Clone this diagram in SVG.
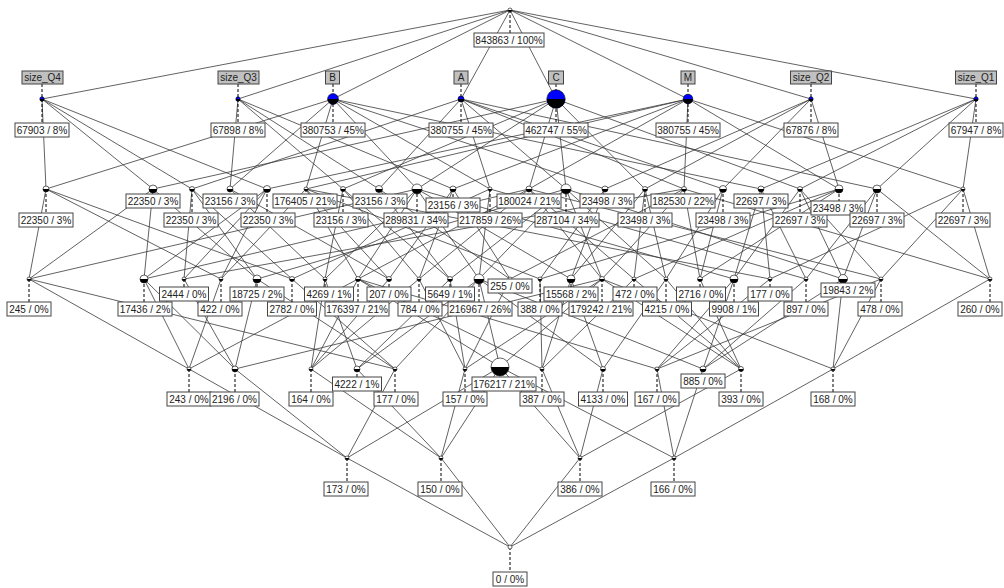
<svg xmlns="http://www.w3.org/2000/svg" width="1004" height="588" viewBox="0 0 1004 588">
<style>
.e{stroke:#3a3a3a;stroke-width:0.8;fill:none}
.d{stroke:#000;stroke-width:1;stroke-dasharray:3,2}
.lb{fill:#fff;stroke:#444;stroke-width:1}
.al{fill:#c0c0c0;stroke:#444;stroke-width:1}
.t{font-family:"Liberation Sans",Arial,sans-serif;font-size:10px;fill:#222;text-anchor:middle}
.w{fill:#fff;stroke:#000;stroke-width:0.6}
.u{fill:#00f;stroke:#000;stroke-width:0.6}
.k{fill:#000}
</style>
<defs>
<g id="g2"><circle class="w" r="2"/><path class="k" d="M-2 0A2 2 0 0 0 2 0Z"/></g>
<g id="g25"><circle class="w" r="2.5"/><path class="k" d="M-2.5 0A2.5 2.5 0 0 0 2.5 0Z"/></g>
<g id="g3"><circle class="w" r="3"/><path class="k" d="M-3 0A3 3 0 0 0 3 0Z"/></g>
<g id="g35"><circle class="w" r="3.5"/><path class="k" d="M-3.5 0A3.5 3.5 0 0 0 3.5 0Z"/></g>
<g id="g4"><circle class="w" r="4"/><path class="k" d="M-4 0A4 4 0 0 0 4 0Z"/></g>
<g id="g45"><circle class="w" r="4.5"/><path class="k" d="M-4.5 0A4.5 4.5 0 0 0 4.5 0Z"/></g>
<g id="g5"><circle class="w" r="5"/><path class="k" d="M-5 0A5 5 0 0 0 5 0Z"/></g>
<g id="g9"><circle class="w" r="9"/><path class="k" d="M-9 0A9 9 0 0 0 9 0Z"/></g>
<g id="gw"><circle class="w" r="2"/></g>
<g id="u2"><circle class="u" r="2.2"/><path class="k" d="M-2.2 0A2.2 2.2 0 0 0 2.2 0Z"/></g>
<g id="u3"><circle class="u" r="3"/><path class="k" d="M-3 0A3 3 0 0 0 3 0Z"/></g>
<g id="u48"><circle class="u" r="4.8"/><path class="k" d="M-4.8 0A4.8 4.8 0 0 0 4.8 0Z"/></g>
<g id="u53"><circle class="u" r="5.4"/><path class="k" d="M-5.4 0A5.4 5.4 0 0 0 5.4 0Z"/></g>
<g id="u9"><circle class="u" r="9.2"/><path class="k" d="M-9.2 0A9.2 9.2 0 0 0 9.2 0Z"/></g>
</defs>
<rect width="1004" height="588" fill="#fff"/>
<g id="connectors">
<line class="e" x1="510" y1="10" x2="42" y2="99"/><line class="e" x1="510" y1="10" x2="238" y2="99"/><line class="e" x1="510" y1="10" x2="333" y2="99"/><line class="e" x1="510" y1="10" x2="461" y2="99"/><line class="e" x1="510" y1="10" x2="556" y2="99"/><line class="e" x1="510" y1="10" x2="688" y2="99"/><line class="e" x1="510" y1="10" x2="811" y2="99"/><line class="e" x1="510" y1="10" x2="976" y2="99"/>
<line class="e" x1="42" y1="99" x2="46" y2="189"/><line class="e" x1="42" y1="99" x2="153" y2="189"/><line class="e" x1="42" y1="99" x2="192" y2="189"/><line class="e" x1="42" y1="99" x2="267" y2="189"/>
<line class="e" x1="238" y1="99" x2="230" y2="189"/><line class="e" x1="238" y1="99" x2="343" y2="189"/><line class="e" x1="238" y1="99" x2="379" y2="189"/><line class="e" x1="238" y1="99" x2="453" y2="189"/>
<line class="e" x1="811" y1="99" x2="605" y2="189"/><line class="e" x1="811" y1="99" x2="645" y2="189"/><line class="e" x1="811" y1="99" x2="723" y2="189"/><line class="e" x1="811" y1="99" x2="839" y2="189"/>
<line class="e" x1="976" y1="99" x2="761" y2="189"/><line class="e" x1="976" y1="99" x2="800" y2="189"/><line class="e" x1="976" y1="99" x2="877" y2="189"/><line class="e" x1="976" y1="99" x2="963" y2="189"/>
<line class="e" x1="333" y1="99" x2="46" y2="189"/><line class="e" x1="333" y1="99" x2="230" y2="189"/><line class="e" x1="333" y1="99" x2="605" y2="189"/><line class="e" x1="333" y1="99" x2="761" y2="189"/><line class="e" x1="333" y1="99" x2="306" y2="189"/><line class="e" x1="333" y1="99" x2="417" y2="189"/><line class="e" x1="333" y1="99" x2="490" y2="189"/>
<line class="e" x1="556" y1="99" x2="153" y2="189"/><line class="e" x1="556" y1="99" x2="343" y2="189"/><line class="e" x1="556" y1="99" x2="645" y2="189"/><line class="e" x1="556" y1="99" x2="800" y2="189"/><line class="e" x1="556" y1="99" x2="417" y2="189"/><line class="e" x1="556" y1="99" x2="529" y2="189"/><line class="e" x1="556" y1="99" x2="566" y2="189"/>
<line class="e" x1="461" y1="99" x2="192" y2="189"/><line class="e" x1="461" y1="99" x2="379" y2="189"/><line class="e" x1="461" y1="99" x2="723" y2="189"/><line class="e" x1="461" y1="99" x2="877" y2="189"/><line class="e" x1="461" y1="99" x2="490" y2="189"/><line class="e" x1="461" y1="99" x2="566" y2="189"/><line class="e" x1="461" y1="99" x2="684" y2="189"/>
<line class="e" x1="688" y1="99" x2="267" y2="189"/><line class="e" x1="688" y1="99" x2="453" y2="189"/><line class="e" x1="688" y1="99" x2="839" y2="189"/><line class="e" x1="688" y1="99" x2="963" y2="189"/><line class="e" x1="688" y1="99" x2="306" y2="189"/><line class="e" x1="688" y1="99" x2="529" y2="189"/><line class="e" x1="688" y1="99" x2="684" y2="189"/>
<line class="e" x1="417" y1="189" x2="479" y2="279"/><line class="e" x1="417" y1="189" x2="358" y2="279"/><line class="e" x1="490" y1="189" x2="479" y2="279"/><line class="e" x1="566" y1="189" x2="479" y2="279"/><line class="e" x1="566" y1="189" x2="602" y2="279"/><line class="e" x1="306" y1="189" x2="358" y2="279"/><line class="e" x1="529" y1="189" x2="358" y2="279"/><line class="e" x1="529" y1="189" x2="602" y2="279"/><line class="e" x1="684" y1="189" x2="602" y2="279"/>
<line class="e" x1="479" y1="279" x2="500" y2="367"/><line class="e" x1="358" y1="279" x2="500" y2="367"/><line class="e" x1="602" y1="279" x2="500" y2="367"/>
<line class="e" x1="46" y1="189" x2="29" y2="279"/><line class="e" x1="153" y1="189" x2="29" y2="279"/><line class="e" x1="417" y1="189" x2="29" y2="279"/>
<line class="e" x1="153" y1="189" x2="144" y2="279"/><line class="e" x1="267" y1="189" x2="144" y2="279"/><line class="e" x1="529" y1="189" x2="144" y2="279"/>
<line class="e" x1="192" y1="189" x2="184" y2="279"/><line class="e" x1="267" y1="189" x2="184" y2="279"/><line class="e" x1="684" y1="189" x2="184" y2="279"/>
<line class="e" x1="46" y1="189" x2="221" y2="279"/><line class="e" x1="267" y1="189" x2="221" y2="279"/><line class="e" x1="306" y1="189" x2="221" y2="279"/>
<line class="e" x1="192" y1="189" x2="257" y2="279"/><line class="e" x1="153" y1="189" x2="257" y2="279"/><line class="e" x1="566" y1="189" x2="257" y2="279"/>
<line class="e" x1="46" y1="189" x2="292" y2="279"/><line class="e" x1="192" y1="189" x2="292" y2="279"/><line class="e" x1="490" y1="189" x2="292" y2="279"/>
<line class="e" x1="29" y1="279" x2="189" y2="369"/><line class="e" x1="144" y1="279" x2="189" y2="369"/><line class="e" x1="221" y1="279" x2="189" y2="369"/><line class="e" x1="358" y1="279" x2="189" y2="369"/>
<line class="e" x1="29" y1="279" x2="395" y2="369"/><line class="e" x1="257" y1="279" x2="395" y2="369"/><line class="e" x1="292" y1="279" x2="395" y2="369"/><line class="e" x1="479" y1="279" x2="395" y2="369"/>
<line class="e" x1="184" y1="279" x2="235" y2="369"/><line class="e" x1="144" y1="279" x2="235" y2="369"/><line class="e" x1="257" y1="279" x2="235" y2="369"/><line class="e" x1="602" y1="279" x2="235" y2="369"/>
<line class="e" x1="189" y1="369" x2="347" y2="458"/><line class="e" x1="395" y1="369" x2="347" y2="458"/><line class="e" x1="235" y1="369" x2="347" y2="458"/><line class="e" x1="500" y1="367" x2="347" y2="458"/>
<line class="e" x1="230" y1="189" x2="325" y2="279"/><line class="e" x1="343" y1="189" x2="325" y2="279"/><line class="e" x1="417" y1="189" x2="325" y2="279"/>
<line class="e" x1="230" y1="189" x2="389" y2="279"/><line class="e" x1="453" y1="189" x2="389" y2="279"/><line class="e" x1="306" y1="189" x2="389" y2="279"/>
<line class="e" x1="343" y1="189" x2="419" y2="279"/><line class="e" x1="453" y1="189" x2="419" y2="279"/><line class="e" x1="529" y1="189" x2="419" y2="279"/>
<line class="e" x1="379" y1="189" x2="450" y2="279"/><line class="e" x1="343" y1="189" x2="450" y2="279"/><line class="e" x1="566" y1="189" x2="450" y2="279"/>
<line class="e" x1="379" y1="189" x2="510" y2="279"/><line class="e" x1="453" y1="189" x2="510" y2="279"/><line class="e" x1="684" y1="189" x2="510" y2="279"/>
<line class="e" x1="325" y1="279" x2="357" y2="369"/><line class="e" x1="450" y1="279" x2="357" y2="369"/><line class="e" x1="479" y1="279" x2="357" y2="369"/>
<line class="e" x1="389" y1="279" x2="311" y2="369"/><line class="e" x1="419" y1="279" x2="311" y2="369"/><line class="e" x1="325" y1="279" x2="311" y2="369"/><line class="e" x1="358" y1="279" x2="311" y2="369"/>
<line class="e" x1="510" y1="279" x2="465" y2="369"/><line class="e" x1="419" y1="279" x2="465" y2="369"/><line class="e" x1="450" y1="279" x2="465" y2="369"/><line class="e" x1="602" y1="279" x2="465" y2="369"/>
<line class="e" x1="357" y1="369" x2="441" y2="458"/><line class="e" x1="311" y1="369" x2="441" y2="458"/><line class="e" x1="465" y1="369" x2="441" y2="458"/><line class="e" x1="500" y1="367" x2="441" y2="458"/>
<line class="e" x1="605" y1="189" x2="540" y2="279"/><line class="e" x1="839" y1="189" x2="540" y2="279"/><line class="e" x1="306" y1="189" x2="540" y2="279"/>
<line class="e" x1="605" y1="189" x2="571" y2="279"/><line class="e" x1="645" y1="189" x2="571" y2="279"/><line class="e" x1="417" y1="189" x2="571" y2="279"/>
<line class="e" x1="645" y1="189" x2="634" y2="279"/><line class="e" x1="839" y1="189" x2="634" y2="279"/><line class="e" x1="529" y1="189" x2="634" y2="279"/>
<line class="e" x1="723" y1="189" x2="666" y2="279"/><line class="e" x1="645" y1="189" x2="666" y2="279"/><line class="e" x1="566" y1="189" x2="666" y2="279"/>
<line class="e" x1="723" y1="189" x2="700" y2="279"/><line class="e" x1="839" y1="189" x2="700" y2="279"/><line class="e" x1="684" y1="189" x2="700" y2="279"/>
<line class="e" x1="571" y1="279" x2="603" y2="369"/><line class="e" x1="666" y1="279" x2="603" y2="369"/><line class="e" x1="479" y1="279" x2="603" y2="369"/>
<line class="e" x1="540" y1="279" x2="542" y2="369"/><line class="e" x1="634" y1="279" x2="542" y2="369"/><line class="e" x1="571" y1="279" x2="542" y2="369"/><line class="e" x1="358" y1="279" x2="542" y2="369"/>
<line class="e" x1="700" y1="279" x2="741" y2="369"/><line class="e" x1="634" y1="279" x2="741" y2="369"/><line class="e" x1="666" y1="279" x2="741" y2="369"/><line class="e" x1="602" y1="279" x2="741" y2="369"/>
<line class="e" x1="603" y1="369" x2="580" y2="458"/><line class="e" x1="542" y1="369" x2="580" y2="458"/><line class="e" x1="741" y1="369" x2="580" y2="458"/><line class="e" x1="500" y1="367" x2="580" y2="458"/>
<line class="e" x1="761" y1="189" x2="734" y2="279"/><line class="e" x1="800" y1="189" x2="734" y2="279"/><line class="e" x1="417" y1="189" x2="734" y2="279"/>
<line class="e" x1="761" y1="189" x2="770" y2="279"/><line class="e" x1="963" y1="189" x2="770" y2="279"/><line class="e" x1="306" y1="189" x2="770" y2="279"/>
<line class="e" x1="761" y1="189" x2="806" y2="279"/><line class="e" x1="877" y1="189" x2="806" y2="279"/><line class="e" x1="490" y1="189" x2="806" y2="279"/>
<line class="e" x1="877" y1="189" x2="843" y2="279"/><line class="e" x1="800" y1="189" x2="843" y2="279"/><line class="e" x1="566" y1="189" x2="843" y2="279"/>
<line class="e" x1="800" y1="189" x2="881" y2="279"/><line class="e" x1="963" y1="189" x2="881" y2="279"/><line class="e" x1="529" y1="189" x2="881" y2="279"/>
<line class="e" x1="877" y1="189" x2="990" y2="279"/><line class="e" x1="963" y1="189" x2="990" y2="279"/><line class="e" x1="684" y1="189" x2="990" y2="279"/>
<line class="e" x1="806" y1="279" x2="703" y2="369"/><line class="e" x1="843" y1="279" x2="703" y2="369"/><line class="e" x1="734" y1="279" x2="703" y2="369"/><line class="e" x1="479" y1="279" x2="703" y2="369"/>
<line class="e" x1="770" y1="279" x2="657" y2="369"/><line class="e" x1="881" y1="279" x2="657" y2="369"/><line class="e" x1="734" y1="279" x2="657" y2="369"/><line class="e" x1="358" y1="279" x2="657" y2="369"/>
<line class="e" x1="990" y1="279" x2="833" y2="369"/><line class="e" x1="881" y1="279" x2="833" y2="369"/><line class="e" x1="843" y1="279" x2="833" y2="369"/><line class="e" x1="602" y1="279" x2="833" y2="369"/>
<line class="e" x1="703" y1="369" x2="674" y2="458"/><line class="e" x1="657" y1="369" x2="674" y2="458"/><line class="e" x1="833" y1="369" x2="674" y2="458"/><line class="e" x1="500" y1="367" x2="674" y2="458"/>
<line class="e" x1="347" y1="458" x2="510" y2="547"/><line class="e" x1="441" y1="458" x2="510" y2="547"/><line class="e" x1="580" y1="458" x2="510" y2="547"/><line class="e" x1="674" y1="458" x2="510" y2="547"/>
</g>
<g id="nodes">
<g id="n-top"><line class="d" x1="510" y1="10" x2="510" y2="33"/><use href="#g2" x="510" y="10"/><rect class="lb" x="474" y="33" width="70" height="14"/><text class="t" x="509" y="43.5">843863 / 100%</text></g>
<g id="n-q4"><line class="d" x1="42" y1="84" x2="42" y2="123"/><rect class="al" x="22" y="71" width="41" height="13"/><text class="t" x="42.5" y="81">size_Q4</text><use href="#u2" x="42" y="99"/><rect class="lb" x="15" y="123" width="54" height="14"/><text class="t" x="42" y="133.5">67903 / 8%</text></g>
<g id="n-q3"><line class="d" x1="238" y1="84" x2="238" y2="123"/><rect class="al" x="218" y="71" width="41" height="13"/><text class="t" x="238.5" y="81">size_Q3</text><use href="#u2" x="238" y="99"/><rect class="lb" x="211" y="123" width="54" height="14"/><text class="t" x="238" y="133.5">67898 / 8%</text></g>
<g id="n-b"><line class="d" x1="333" y1="84" x2="333" y2="123"/><rect class="al" x="325.5" y="71" width="14" height="13"/><text class="t" x="332.5" y="81">B</text><use href="#u53" x="333" y="99"/><rect class="lb" x="301" y="123" width="64" height="14"/><text class="t" x="333" y="133.5">380753 / 45%</text></g>
<g id="n-a"><line class="d" x1="461" y1="84" x2="461" y2="123"/><rect class="al" x="454" y="71" width="14" height="13"/><text class="t" x="461" y="81">A</text><use href="#u3" x="461" y="99"/><rect class="lb" x="429" y="123" width="64" height="14"/><text class="t" x="461" y="133.5">380755 / 45%</text></g>
<g id="n-c"><line class="d" x1="556" y1="84" x2="556" y2="123"/><rect class="al" x="548.5" y="71" width="15" height="13"/><text class="t" x="556" y="81">C</text><use href="#u9" x="556" y="99"/><rect class="lb" x="524" y="123" width="64" height="14"/><text class="t" x="556" y="133.5">462747 / 55%</text></g>
<g id="n-m"><line class="d" x1="688" y1="84" x2="688" y2="123"/><rect class="al" x="681" y="71" width="14" height="13"/><text class="t" x="688" y="81">M</text><use href="#u48" x="688" y="99"/><rect class="lb" x="656" y="123" width="64" height="14"/><text class="t" x="688" y="133.5">380755 / 45%</text></g>
<g id="n-q2"><line class="d" x1="811" y1="84" x2="811" y2="123"/><rect class="al" x="790.5" y="71" width="41" height="13"/><text class="t" x="811" y="81">size_Q2</text><use href="#u2" x="811" y="99"/><rect class="lb" x="784" y="123" width="54" height="14"/><text class="t" x="811" y="133.5">67876 / 8%</text></g>
<g id="n-q1"><line class="d" x1="976" y1="84" x2="976" y2="123"/><rect class="al" x="955.5" y="71" width="41" height="13"/><text class="t" x="976" y="81">size_Q1</text><use href="#u2" x="976" y="99"/><rect class="lb" x="949" y="123" width="54" height="14"/><text class="t" x="976" y="133.5">67947 / 8%</text></g>
<g id="n2-46"><line class="d" x1="46" y1="189" x2="46" y2="213"/><use href="#g3" x="46" y="189"/><rect class="lb" x="19" y="213" width="54" height="14"/><text class="t" x="46" y="223.5">22350 / 3%</text></g>
<g id="n2-153"><line class="d" x1="153" y1="189" x2="153" y2="194"/><use href="#g4" x="153" y="189"/><rect class="lb" x="126" y="194" width="54" height="14"/><text class="t" x="153" y="204.5">22350 / 3%</text></g>
<g id="n2-192"><line class="d" x1="192" y1="189" x2="192" y2="213"/><use href="#g25" x="192" y="189"/><rect class="lb" x="164" y="213" width="54" height="14"/><text class="t" x="191" y="223.5">22350 / 3%</text></g>
<g id="n2-230"><line class="d" x1="230" y1="189" x2="230" y2="194"/><use href="#g3" x="230" y="189"/><rect class="lb" x="203" y="194" width="54" height="14"/><text class="t" x="230" y="204.5">23156 / 3%</text></g>
<g id="n2-267"><line class="d" x1="267" y1="189" x2="267" y2="213"/><use href="#g35" x="267" y="189"/><rect class="lb" x="241" y="213" width="54" height="14"/><text class="t" x="268" y="223.5">22350 / 3%</text></g>
<g id="n2-306"><line class="d" x1="306" y1="189" x2="306" y2="194"/><use href="#g2" x="306" y="189"/><rect class="lb" x="273" y="194" width="64" height="14"/><text class="t" x="305" y="204.5">176405 / 21%</text></g>
<g id="n2-343"><line class="d" x1="343" y1="189" x2="343" y2="213"/><use href="#g25" x="343" y="189"/><rect class="lb" x="314" y="213" width="54" height="14"/><text class="t" x="341" y="223.5">23156 / 3%</text></g>
<g id="n2-379"><line class="d" x1="379" y1="189" x2="379" y2="194"/><use href="#g35" x="379" y="189"/><rect class="lb" x="353" y="194" width="54" height="14"/><text class="t" x="380" y="204.5">23156 / 3%</text></g>
<g id="n2-417"><line class="d" x1="417" y1="189" x2="417" y2="213"/><use href="#g5" x="417" y="189"/><rect class="lb" x="384" y="213" width="64" height="14"/><text class="t" x="416" y="223.5">289831 / 34%</text></g>
<g id="n2-453"><line class="d" x1="453" y1="189" x2="453" y2="198"/><use href="#g3" x="453" y="189"/><rect class="lb" x="426" y="198" width="54" height="14"/><text class="t" x="453" y="208.5">23156 / 3%</text></g>
<g id="n2-490"><line class="d" x1="490" y1="189" x2="490" y2="213"/><use href="#g2" x="490" y="189"/><rect class="lb" x="458" y="213" width="64" height="14"/><text class="t" x="490" y="223.5">217859 / 26%</text></g>
<g id="n2-529"><line class="d" x1="529" y1="189" x2="529" y2="194"/><use href="#g3" x="529" y="189"/><rect class="lb" x="497" y="194" width="64" height="14"/><text class="t" x="529" y="204.5">180024 / 21%</text></g>
<g id="n2-566"><line class="d" x1="566" y1="189" x2="566" y2="213"/><use href="#g5" x="566" y="189"/><rect class="lb" x="535" y="213" width="64" height="14"/><text class="t" x="567" y="223.5">287104 / 34%</text></g>
<g id="n2-605"><line class="d" x1="605" y1="189" x2="605" y2="194"/><use href="#g3" x="605" y="189"/><rect class="lb" x="580" y="194" width="54" height="14"/><text class="t" x="607" y="204.5">23498 / 3%</text></g>
<g id="n2-645"><line class="d" x1="645" y1="189" x2="645" y2="213"/><use href="#g25" x="645" y="189"/><rect class="lb" x="618" y="213" width="54" height="14"/><text class="t" x="645" y="223.5">23498 / 3%</text></g>
<g id="n2-684"><line class="d" x1="684" y1="189" x2="684" y2="194"/><use href="#g25" x="684" y="189"/><rect class="lb" x="651" y="194" width="64" height="14"/><text class="t" x="683" y="204.5">182530 / 22%</text></g>
<g id="n2-723"><line class="d" x1="723" y1="189" x2="723" y2="213"/><use href="#g35" x="723" y="189"/><rect class="lb" x="696" y="213" width="54" height="14"/><text class="t" x="723" y="223.5">23498 / 3%</text></g>
<g id="n2-761"><line class="d" x1="761" y1="189" x2="761" y2="194"/><use href="#g3" x="761" y="189"/><rect class="lb" x="734" y="194" width="54" height="14"/><text class="t" x="761" y="204.5">22697 / 3%</text></g>
<g id="n2-800"><line class="d" x1="800" y1="189" x2="800" y2="213"/><use href="#g25" x="800" y="189"/><rect class="lb" x="773" y="213" width="54" height="14"/><text class="t" x="800" y="223.5">22697 / 3%</text></g>
<g id="n2-839"><line class="d" x1="839" y1="189" x2="839" y2="201"/><use href="#g4" x="839" y="189"/><rect class="lb" x="811" y="201" width="54" height="14"/><text class="t" x="838" y="211.5">23498 / 3%</text></g>
<g id="n2-877"><line class="d" x1="877" y1="189" x2="877" y2="213"/><use href="#g4" x="877" y="189"/><rect class="lb" x="850" y="213" width="54" height="14"/><text class="t" x="877" y="223.5">22697 / 3%</text></g>
<g id="n2-963"><line class="d" x1="963" y1="189" x2="963" y2="213"/><use href="#g2" x="963" y="189"/><rect class="lb" x="936" y="213" width="54" height="14"/><text class="t" x="963" y="223.5">22697 / 3%</text></g>
<g id="n3-29"><line class="d" x1="29" y1="279" x2="29" y2="302"/><use href="#g2" x="29" y="279"/><rect class="lb" x="7" y="302" width="44" height="14"/><text class="t" x="29" y="312.5">245 / 0%</text></g>
<g id="n3-144"><line class="d" x1="144" y1="279" x2="144" y2="302"/><use href="#g4" x="144" y="279"/><rect class="lb" x="118" y="302" width="54" height="14"/><text class="t" x="145" y="312.5">17436 / 2%</text></g>
<g id="n3-184"><line class="d" x1="184" y1="279" x2="184" y2="287"/><use href="#g2" x="184" y="279"/><rect class="lb" x="159.5" y="287" width="49" height="14"/><text class="t" x="184" y="297.5">2444 / 0%</text></g>
<g id="n3-221"><line class="d" x1="221" y1="279" x2="221" y2="302"/><use href="#g2" x="221" y="279"/><rect class="lb" x="198" y="302" width="44" height="14"/><text class="t" x="220" y="312.5">422 / 0%</text></g>
<g id="n3-257"><line class="d" x1="257" y1="279" x2="257" y2="287"/><use href="#g4" x="257" y="279"/><rect class="lb" x="230" y="287" width="54" height="14"/><text class="t" x="257" y="297.5">18725 / 2%</text></g>
<g id="n3-292"><line class="d" x1="292" y1="279" x2="292" y2="302"/><use href="#g25" x="292" y="279"/><rect class="lb" x="267.5" y="302" width="49" height="14"/><text class="t" x="292" y="312.5">2782 / 0%</text></g>
<g id="n3-325"><line class="d" x1="325" y1="279" x2="325" y2="287"/><use href="#g2" x="325" y="279"/><rect class="lb" x="304.5" y="287" width="49" height="14"/><text class="t" x="329" y="297.5">4269 / 1%</text></g>
<g id="n3-358"><line class="d" x1="358" y1="279" x2="358" y2="302"/><use href="#g25" x="358" y="279"/><rect class="lb" x="325" y="302" width="64" height="14"/><text class="t" x="357" y="312.5">176397 / 21%</text></g>
<g id="n3-389"><line class="d" x1="389" y1="279" x2="389" y2="287"/><use href="#g25" x="389" y="279"/><rect class="lb" x="367" y="287" width="44" height="14"/><text class="t" x="389" y="297.5">207 / 0%</text></g>
<g id="n3-419"><line class="d" x1="419" y1="279" x2="419" y2="302"/><use href="#g2" x="419" y="279"/><rect class="lb" x="398" y="302" width="44" height="14"/><text class="t" x="420" y="312.5">784 / 0%</text></g>
<g id="n3-450"><line class="d" x1="450" y1="279" x2="450" y2="287"/><use href="#g25" x="450" y="279"/><rect class="lb" x="425.5" y="287" width="49" height="14"/><text class="t" x="450" y="297.5">5649 / 1%</text></g>
<g id="n3-479"><line class="d" x1="479" y1="279" x2="479" y2="302"/><use href="#g5" x="479" y="279"/><rect class="lb" x="448" y="302" width="64" height="14"/><text class="t" x="480" y="312.5">216967 / 26%</text></g>
<g id="n3-510"><use href="#g2" x="510" y="279"/><rect class="lb" x="488" y="279" width="44" height="14"/><text class="t" x="510" y="289.5">255 / 0%</text></g>
<g id="n3-540"><line class="d" x1="540" y1="279" x2="540" y2="302"/><use href="#g2" x="540" y="279"/><rect class="lb" x="518" y="302" width="44" height="14"/><text class="t" x="540" y="312.5">388 / 0%</text></g>
<g id="n3-571"><line class="d" x1="571" y1="279" x2="571" y2="287"/><use href="#g4" x="571" y="279"/><rect class="lb" x="544" y="287" width="54" height="14"/><text class="t" x="571" y="297.5">15568 / 2%</text></g>
<g id="n3-602"><line class="d" x1="602" y1="279" x2="602" y2="302"/><use href="#g25" x="602" y="279"/><rect class="lb" x="569" y="302" width="64" height="14"/><text class="t" x="601" y="312.5">179242 / 21%</text></g>
<g id="n3-634"><line class="d" x1="634" y1="279" x2="634" y2="287"/><use href="#g2" x="634" y="279"/><rect class="lb" x="613" y="287" width="44" height="14"/><text class="t" x="635" y="297.5">472 / 0%</text></g>
<g id="n3-666"><line class="d" x1="666" y1="279" x2="666" y2="302"/><use href="#g2" x="666" y="279"/><rect class="lb" x="642.5" y="302" width="49" height="14"/><text class="t" x="667" y="312.5">4215 / 0%</text></g>
<g id="n3-700"><line class="d" x1="700" y1="279" x2="700" y2="287"/><use href="#g25" x="700" y="279"/><rect class="lb" x="676.5" y="287" width="49" height="14"/><text class="t" x="701" y="297.5">2716 / 0%</text></g>
<g id="n3-734"><line class="d" x1="734" y1="279" x2="734" y2="302"/><use href="#g4" x="734" y="279"/><rect class="lb" x="709.5" y="302" width="49" height="14"/><text class="t" x="734" y="312.5">9908 / 1%</text></g>
<g id="n3-770"><line class="d" x1="770" y1="279" x2="770" y2="287"/><use href="#g2" x="770" y="279"/><rect class="lb" x="748" y="287" width="44" height="14"/><text class="t" x="770" y="297.5">177 / 0%</text></g>
<g id="n3-806"><line class="d" x1="806" y1="279" x2="806" y2="302"/><use href="#g2" x="806" y="279"/><rect class="lb" x="784" y="302" width="44" height="14"/><text class="t" x="806" y="312.5">897 / 0%</text></g>
<g id="n3-843"><line class="d" x1="843" y1="279" x2="843" y2="283"/><use href="#g45" x="843" y="279"/><rect class="lb" x="821" y="283" width="54" height="14"/><text class="t" x="848" y="293.5">19843 / 2%</text></g>
<g id="n3-881"><line class="d" x1="881" y1="279" x2="881" y2="302"/><use href="#g2" x="881" y="279"/><rect class="lb" x="858" y="302" width="44" height="14"/><text class="t" x="880" y="312.5">478 / 0%</text></g>
<g id="n3-990"><line class="d" x1="990" y1="279" x2="990" y2="302"/><use href="#g2" x="990" y="279"/><rect class="lb" x="958" y="302" width="44" height="14"/><text class="t" x="980" y="312.5">260 / 0%</text></g>
<g id="n4-189"><line class="d" x1="189" y1="369" x2="189" y2="392"/><use href="#g2" x="189" y="369"/><rect class="lb" x="167" y="392" width="44" height="14"/><text class="t" x="189" y="402.5">243 / 0%</text></g>
<g id="n4-235"><line class="d" x1="235" y1="369" x2="235" y2="392"/><use href="#g3" x="235" y="369"/><rect class="lb" x="210" y="392" width="49" height="14"/><text class="t" x="234.5" y="402.5">2196 / 0%</text></g>
<g id="n4-311"><line class="d" x1="311" y1="369" x2="311" y2="392"/><use href="#g2" x="311" y="369"/><rect class="lb" x="289" y="392" width="44" height="14"/><text class="t" x="311" y="402.5">164 / 0%</text></g>
<g id="n4-357"><line class="d" x1="357" y1="369" x2="357" y2="377"/><use href="#g3" x="357" y="369"/><rect class="lb" x="332.5" y="377" width="49" height="14"/><text class="t" x="357" y="387.5">4222 / 1%</text></g>
<g id="n4-395"><line class="d" x1="395" y1="369" x2="395" y2="392"/><use href="#g2" x="395" y="369"/><rect class="lb" x="374" y="392" width="44" height="14"/><text class="t" x="396" y="402.5">177 / 0%</text></g>
<g id="n4-465"><line class="d" x1="465" y1="369" x2="465" y2="392"/><use href="#g2" x="465" y="369"/><rect class="lb" x="443" y="392" width="44" height="14"/><text class="t" x="465" y="402.5">157 / 0%</text></g>
<g id="n4-500"><use href="#g9" x="500" y="367"/><rect class="lb" x="472" y="377" width="64" height="14"/><text class="t" x="504" y="387.5">176217 / 21%</text></g>
<g id="n4-542"><line class="d" x1="542" y1="369" x2="542" y2="392"/><use href="#g2" x="542" y="369"/><rect class="lb" x="520" y="392" width="44" height="14"/><text class="t" x="542" y="402.5">387 / 0%</text></g>
<g id="n4-603"><line class="d" x1="603" y1="369" x2="603" y2="392"/><use href="#g25" x="603" y="369"/><rect class="lb" x="578.5" y="392" width="49" height="14"/><text class="t" x="603" y="402.5">4133 / 0%</text></g>
<g id="n4-657"><line class="d" x1="657" y1="369" x2="657" y2="392"/><use href="#g2" x="657" y="369"/><rect class="lb" x="635" y="392" width="44" height="14"/><text class="t" x="657" y="402.5">167 / 0%</text></g>
<g id="n4-703"><line class="d" x1="703" y1="369" x2="703" y2="374"/><use href="#g3" x="703" y="369"/><rect class="lb" x="681" y="374" width="44" height="14"/><text class="t" x="703" y="384.5">885 / 0%</text></g>
<g id="n4-741"><line class="d" x1="741" y1="369" x2="741" y2="392"/><use href="#g25" x="741" y="369"/><rect class="lb" x="719" y="392" width="44" height="14"/><text class="t" x="741" y="402.5">393 / 0%</text></g>
<g id="n4-833"><line class="d" x1="833" y1="369" x2="833" y2="392"/><use href="#g2" x="833" y="369"/><rect class="lb" x="811" y="392" width="44" height="14"/><text class="t" x="833" y="402.5">168 / 0%</text></g>
<g id="n5-347"><line class="d" x1="347" y1="458" x2="347" y2="482"/><use href="#g2" x="347" y="458"/><rect class="lb" x="324" y="482" width="44" height="14"/><text class="t" x="346" y="492.5">173 / 0%</text></g>
<g id="n5-441"><line class="d" x1="441" y1="458" x2="441" y2="482"/><use href="#g2" x="441" y="458"/><rect class="lb" x="418" y="482" width="44" height="14"/><text class="t" x="440" y="492.5">150 / 0%</text></g>
<g id="n5-580"><line class="d" x1="580" y1="458" x2="580" y2="482"/><use href="#g2" x="580" y="458"/><rect class="lb" x="558" y="482" width="44" height="14"/><text class="t" x="580" y="492.5">386 / 0%</text></g>
<g id="n5-674"><line class="d" x1="674" y1="458" x2="674" y2="482"/><use href="#g2" x="674" y="458"/><rect class="lb" x="651" y="482" width="44" height="14"/><text class="t" x="673" y="492.5">166 / 0%</text></g>
<g id="n-bottom"><line class="d" x1="510" y1="547" x2="510" y2="572"/><use href="#gw" x="510" y="547"/><rect class="lb" x="493" y="572" width="34" height="14"/><text class="t" x="510" y="582.5">0 / 0%</text></g>
</g>
</svg>
